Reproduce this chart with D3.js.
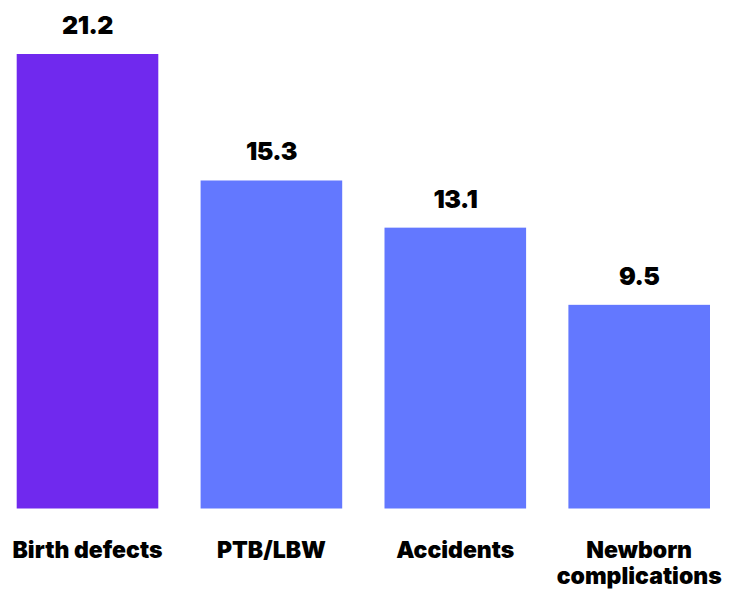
<!DOCTYPE html>
<html>
<head>
<meta charset="utf-8">
<script src="https://cdn.jsdelivr.net/npm/d3@7"></script>
<style>
  body { margin: 0; background: #fff; }
  text { font-family: Inter, "Liberation Sans", sans-serif; font-weight: 900; fill: #000; }
</style>
</head>
<body>
<svg id="svg"></svg>
<script>
var width = 739;
var height = 591;

// data
const categories = ["Birth defects", "PTB/LBW", "Accidents", "Newborn complications"];
const labelLines = [["Birth defects"], ["PTB/LBW"], ["Accidents"], ["Newborn", "complications"]];
const values = [21.2, 15.3, 13.1, 9.5];

const purple = "#7029EE";
const blue = "#6378FF";

var svg = d3.select("#svg")
    .attr("width", width)
    .attr("height", height)
    .attr("viewBox", [0, 0, width, height]);

var x = d3.scaleBand()
    .domain(categories)
    .range([16.7, 710])
    .paddingInner(0.23)
    .paddingOuter(0);

var y = d3.scaleLinear()
    .domain([0, 21.2])
    .range([508.5, 54]);

var data = categories.map((c, i) => ({ cat: c, value: values[i], lines: labelLines[i] }));

// bars
svg.append("g")
  .selectAll()
  .data(data)
  .join("rect")
    .attr("x", d => x(d.cat))
    .attr("y", d => y(d.value))
    .attr("width", x.bandwidth())
    .attr("height", d => y(0) - y(d.value))
    .attr("fill", (d, i) => i == 0 ? purple : blue);

// value labels
svg.append("g")
  .selectAll()
  .data(data)
  .join("text")
    .attr("x", d => x(d.cat) + x.bandwidth() / 2)
    .attr("y", d => y(d.value) - 20)
    .attr("text-anchor", "middle")
    .style("font-size", "25px")
    .style("letter-spacing", "-0.5px")
    .text(d => d.value.toFixed(1));

// category labels
var cl = svg.append("g")
  .selectAll()
  .data(data)
  .join("text")
    .attr("x", d => x(d.cat) + x.bandwidth() / 2)
    .attr("y", 558)
    .attr("text-anchor", "middle")
    .style("font-size", "23px");

cl.selectAll("tspan")
  .data(d => d.lines)
  .join("tspan")
    .attr("x", function() { return this.parentNode.getAttribute("x"); })
    .attr("dy", (d, i) => i == 0 ? 0 : 26)
    .text(d => d);
</script>
</body>
</html>
